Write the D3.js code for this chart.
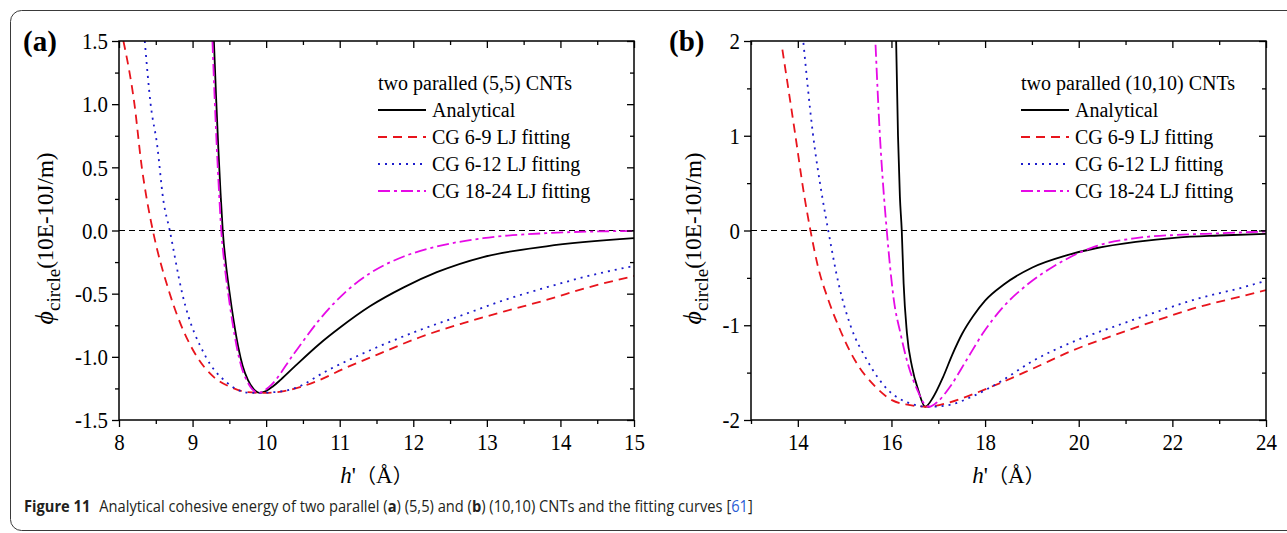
<!DOCTYPE html>
<html>
<head>
<meta charset="utf-8">
<script src="https://cdn.jsdelivr.net/npm/d3@7"></script>
<style>
  body { margin: 0; background: #fff; }
  svg { display: block; }
</style>
</head>
<body>
<script>
// ---- data: [h' (Å), phi (10E-10 J/m)] ----
const seriesNames = ['Analytical', 'CG 6-9 LJ fitting', 'CG 6-12 LJ fitting', 'CG 18-24 LJ fitting'];

// (a) two paralled (5,5) CNTs
const aXTicks = [8, 9, 10, 11, 12, 13, 14, 15];
const aYTicks = [-1.5, -1.0, -0.5, 0.0, 0.5, 1.0, 1.5];
const aAnalytical = [[9.29,1.5],[9.32,1.05],[9.35,0.65],[9.38,0.3],[9.41,0],[9.45,-0.25],[9.5,-0.48],
  [9.56,-0.72],[9.62,-0.92],[9.68,-1.07],[9.75,-1.18],[9.83,-1.255],[9.91,-1.285],[10.0,-1.27],
  [10.09,-1.235],[10.2,-1.18],[10.4,-1.07],[10.72,-0.9],[11.0,-0.77],[11.41,-0.6],[11.87,-0.45],
  [12.32,-0.33],[12.95,-0.21],[13.81,-0.125],[15,-0.061]];
const aLJ69 = [[8.06,1.5],[8.21,1.0],[8.31,0.5],[8.38,0.24],[8.46,0],[8.69,-0.5],[9.06,-1.0],[9.29,-1.16],
  [9.52,-1.24],[9.75,-1.28],[9.98,-1.286],[10.26,-1.27],[10.72,-1.185],[11.06,-1.093],[11.52,-0.98],
  [12.09,-0.845],[12.67,-0.735],[13.24,-0.64],[13.81,-0.55],[14.38,-0.45],[15,-0.36]];
const aLJ612 = [[8.35,1.5],[8.43,1.0],[8.52,0.67],[8.6,0.25],[8.69,0],[8.86,-0.5],[9.18,-1.0],[9.46,-1.2],
  [9.65,-1.27],[9.81,-1.286],[10.1,-1.28],[10.38,-1.25],[10.84,-1.106],[11.52,-0.921],[12.09,-0.788],
  [12.67,-0.669],[13.24,-0.55],[13.81,-0.45],[14.38,-0.36],[15,-0.28]];
const aLJ1824 = [[9.27,1.5],[9.30,1.05],[9.33,0.65],[9.36,0.3],[9.39,0],[9.43,-0.25],[9.48,-0.48],
  [9.54,-0.72],[9.6,-0.92],[9.66,-1.07],[9.73,-1.18],[9.81,-1.255],[9.9,-1.285],[10.04,-1.238],
  [10.38,-0.974],[10.72,-0.709],[11.06,-0.497],[11.41,-0.339],[11.87,-0.206],[12.32,-0.127],
  [12.95,-0.061],[13.81,-0.021],[15,-0.003]];

// (b) two paralled (10,10) CNTs
const bXTicks = [14, 16, 18, 20, 22, 24];
const bYTicks = [-2, -1, 0, 1, 2];
const bAnalytical = [[16.1,2.0],[16.14,1.0],[16.18,0.36],[16.22,0],[16.26,-0.56],[16.33,-1.08],[16.44,-1.44],
  [16.57,-1.68],[16.72,-1.86],[16.89,-1.76],[17.1,-1.55],[17.3,-1.31],[17.51,-1.09],[17.75,-0.9],
  [18.0,-0.74],[18.4,-0.57],[19.01,-0.39],[19.72,-0.265],[20.34,-0.19],[21.22,-0.12],[22.1,-0.075],
  [22.99,-0.053],[24,-0.035]];
const bLJ69 = [[13.67,1.91],[13.94,1.03],[14.14,0.36],[14.27,0],[14.43,-0.38],[14.65,-0.73],[14.87,-1.01],
  [15.22,-1.37],[15.66,-1.65],[16.01,-1.79],[16.37,-1.84],[16.75,-1.86],[17.2,-1.82],[17.51,-1.77],
  [18.13,-1.65],[19.01,-1.46],[19.9,-1.26],[20.78,-1.1],[21.66,-0.95],[22.54,-0.81],[23.43,-0.7],[24,-0.63]];
const bLJ612 = [[14.12,1.98],[14.32,1.03],[14.52,0.36],[14.65,0],[14.87,-0.56],[15.13,-1.01],[15.48,-1.37],
  [15.92,-1.68],[16.37,-1.82],[16.81,-1.86],[17.25,-1.84],[17.69,-1.76],[18.31,-1.6],[19.01,-1.38],
  [19.9,-1.17],[20.78,-1.01],[21.66,-0.86],[22.54,-0.72],[23.43,-0.61],[24,-0.53]];
const bLJ1824 = [[15.66,1.96],[15.75,1.03],[15.84,0.36],[15.9,0],[15.97,-0.38],[16.05,-0.73],[16.19,-1.08],
  [16.37,-1.44],[16.55,-1.68],[16.72,-1.84],[16.81,-1.86],[16.98,-1.81],[17.25,-1.65],[17.6,-1.37],
  [17.96,-1.08],[18.4,-0.8],[18.93,-0.56],[19.46,-0.38],[19.99,-0.24],[20.34,-0.17],[21.22,-0.08],
  [22.1,-0.046],[22.99,-0.03],[24,-0.01]];

const seriesStyle = [
  { color: '#000000', dash: null },
  { color: '#e8141c', dash: '9,6' },
  { color: '#1c1ccc', dash: '2,5' },
  { color: '#e60ae6', dash: '12,4,3,4' }
];

const panels = [
  { tag: '(a)', tagX: 23, title: 'two paralled (5,5) CNTs',
    left: 119, right: 634, top: 41, bottom: 420,
    xDomain: [8, 15], yDomain: [-1.5, 1.5], xTicks: aXTicks, yTicks: aYTicks,
    fmt: d => d.toFixed(1), legendX: 378, ylabX: 53,
    series: [aAnalytical, aLJ69, aLJ612, aLJ1824] },
  { tag: '(b)', tagX: 669, title: 'two paralled (10,10) CNTs',
    left: 751, right: 1266, top: 41, bottom: 420,
    xDomain: [13, 24], yDomain: [-2, 2], xTicks: bXTicks, yTicks: bYTicks,
    fmt: d => String(d), legendX: 1021, ylabX: 701,
    series: [bAnalytical, bLJ69, bLJ612, bLJ1824] }
];

const serif = '"Liberation Serif", "Times New Roman", serif';
const sx = 0.87;   // tick labels in the figure are narrow

const svg = d3.select('body').append('svg')
  .attr('width', 1287).attr('height', 533);

// outer rounded frame of the figure block
svg.append('rect')
  .attr('x', 10.5).attr('y', 10.5).attr('width', 1400).attr('height', 520)
  .attr('rx', 11)
  .attr('fill', 'none').attr('stroke', '#3a3a3a').attr('stroke-width', 1);

function midpoints(arr) {
  const out = [];
  for (let i = 0; i < arr.length - 1; i++) out.push((arr[i] + arr[i + 1]) / 2);
  return out;
}

panels.forEach((p, pi) => {
  const x = d3.scaleLinear().domain(p.xDomain).range([p.left, p.right]);
  const y = d3.scaleLinear().domain(p.yDomain).range([p.bottom, p.top]);
  const g = svg.append('g');

  let xMinor = midpoints(p.xTicks);
  if (p.xDomain[0] < p.xTicks[0]) xMinor = [p.xDomain[0]].concat(xMinor);
  const yMinor = midpoints(p.yTicks);

  const clipId = 'clip' + pi;
  svg.append('clipPath').attr('id', clipId).append('rect')
    .attr('x', p.left).attr('y', p.top)
    .attr('width', p.right - p.left).attr('height', p.bottom - p.top);

  // zero reference line
  g.append('line')
    .attr('x1', p.left).attr('x2', p.right)
    .attr('y1', y(0)).attr('y2', y(0))
    .attr('stroke', '#000').attr('stroke-width', 1.2)
    .attr('stroke-dasharray', '6,4');

  const line = d3.line()
    .x(d => x(d[0])).y(d => y(d[1]))
    .curve(d3.curveMonotoneX);

  const curves = g.append('g').attr('clip-path', `url(#${clipId})`);
  p.series.forEach((s, i) => {
    curves.append('path')
      .datum(s)
      .attr('d', line)
      .attr('fill', 'none')
      .attr('stroke', seriesStyle[i].color)
      .attr('stroke-width', 1.8)
      .attr('stroke-dasharray', seriesStyle[i].dash);
  });

  // axes: bottom/left ticks point out, top/right point in
  const styleAxis = sel => {
    sel.select('.domain').remove();
    sel.selectAll('line').attr('stroke', '#000').attr('stroke-width', 1.3);
  };

  g.append('g').attr('transform', `translate(0,${p.bottom})`)
    .call(d3.axisBottom(x).tickValues(xMinor).tickSize(4).tickFormat(''))
    .call(styleAxis);
  const xa = g.append('g').attr('transform', `translate(0,${p.bottom})`)
    .call(d3.axisBottom(x).tickValues(p.xTicks).tickSize(7).tickPadding(6).tickFormat(d => String(d)))
    .call(styleAxis);
  g.append('g').attr('transform', `translate(0,${p.top})`)
    .call(d3.axisTop(x).tickValues(xMinor).tickSize(-4).tickFormat(''))
    .call(styleAxis);
  g.append('g').attr('transform', `translate(0,${p.top})`)
    .call(d3.axisTop(x).tickValues(p.xTicks).tickSize(-7).tickFormat(''))
    .call(styleAxis);

  g.append('g').attr('transform', `translate(${p.left},0)`)
    .call(d3.axisLeft(y).tickValues(yMinor).tickSize(4).tickFormat(''))
    .call(styleAxis);
  const ya = g.append('g').attr('transform', `translate(${p.left},0)`)
    .call(d3.axisLeft(y).tickValues(p.yTicks).tickSize(7).tickFormat(p.fmt))
    .call(styleAxis);
  g.append('g').attr('transform', `translate(${p.right},0)`)
    .call(d3.axisRight(y).tickValues(yMinor).tickSize(-4).tickFormat(''))
    .call(styleAxis);
  g.append('g').attr('transform', `translate(${p.right},0)`)
    .call(d3.axisRight(y).tickValues(p.yTicks).tickSize(-7).tickFormat(''))
    .call(styleAxis);

  xa.selectAll('text')
    .attr('font-family', serif).attr('font-size', 24).attr('fill', '#000')
    .attr('transform', `scale(${sx},1)`);
  ya.selectAll('text')
    .attr('font-family', serif).attr('font-size', 24).attr('fill', '#000')
    .attr('x', -11 / sx)
    .attr('transform', `scale(${sx},1)`);

  // plot frame
  g.append('rect')
    .attr('x', p.left).attr('y', p.top)
    .attr('width', p.right - p.left).attr('height', p.bottom - p.top)
    .attr('fill', 'none').attr('stroke', '#000').attr('stroke-width', 1.5);

  // panel tag
  g.append('text')
    .attr('x', p.tagX).attr('y', 51)
    .attr('font-family', serif).attr('font-weight', 'bold').attr('font-size', 29)
    .text(p.tag);

  // y title
  const yt = g.append('text')
    .attr('transform', `translate(${p.ylabX},${(p.top + p.bottom) / 2 + 8}) rotate(-90)`)
    .attr('text-anchor', 'middle')
    .attr('font-family', serif).attr('font-size', 23);
  yt.append('tspan').attr('font-style', 'italic').attr('font-size', 26).text('ϕ');
  yt.append('tspan').attr('font-size', 19).attr('dy', 7).text('circle');
  yt.append('tspan').attr('dy', -7).text('(10E-10J/m)');

  // x title
  const xt = g.append('text')
    .attr('x', (p.left + p.right) / 2).attr('y', 483)
    .attr('text-anchor', 'middle')
    .attr('font-family', serif + ', "Noto Sans CJK SC"').attr('font-size', 23);
  xt.append('tspan').attr('font-style', 'italic').text('h');
  xt.append('tspan').text('\'');
  xt.append('tspan').attr('font-family', '"Noto Sans CJK SC"').attr('font-size', 20).text('（');
  xt.append('tspan').text('Å');
  xt.append('tspan').attr('font-family', '"Noto Sans CJK SC"').attr('font-size', 20).text('）');

  // legend
  const lg = g.append('g').attr('font-family', serif).attr('font-size', 20);
  lg.append('text').attr('x', p.legendX).attr('y', 90).text(p.title);
  seriesNames.forEach((name, i) => {
    const cy = 110 + i * 27;
    lg.append('line')
      .attr('x1', p.legendX).attr('x2', p.legendX + 48)
      .attr('y1', cy).attr('y2', cy)
      .attr('stroke', seriesStyle[i].color).attr('stroke-width', 1.8)
      .attr('stroke-dasharray', seriesStyle[i].dash);
    lg.append('text').attr('x', p.legendX + 54).attr('y', cy + 7).text(name);
  });
});

// caption (narrowed like the journal's condensed face)
const cap = svg.append('text')
  .attr('transform', 'translate(24,512) scale(0.9,1)')
  .attr('font-family', '"Open Sans", "Noto Sans", sans-serif')
  .attr('font-size', 16.3).attr('fill', '#231f20');
cap.append('tspan').attr('font-weight', 'bold').text('Figure 11');
cap.append('tspan').attr('dx', 10).text('Analytical cohesive energy of two parallel (');
cap.append('tspan').attr('font-weight', 'bold').text('a');
cap.append('tspan').text(') (5,5) and (');
cap.append('tspan').attr('font-weight', 'bold').text('b');
cap.append('tspan').text(') (10,10) CNTs and the fitting curves [');
cap.append('tspan').attr('fill', '#2a5dd6').text('61');
cap.append('tspan').text(']');
</script>
</body>
</html>
